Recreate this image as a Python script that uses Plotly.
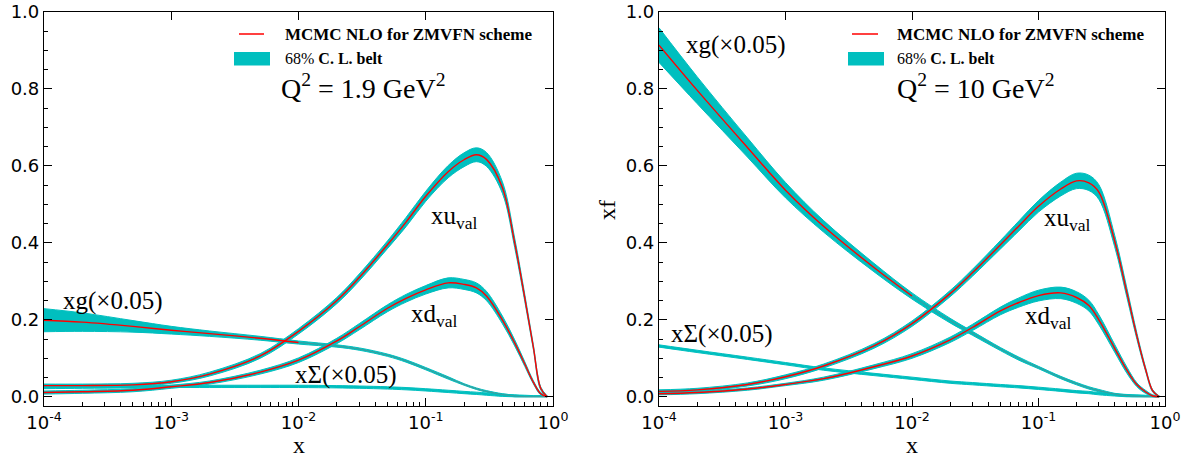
import math
import plotly.graph_objects as go

# x grid shared by all curves
xs = [1e-4, 2e-4, 5e-4, 1e-3, 2e-3, 5e-3, 1e-2, 2e-2, 3e-2, 5e-2, 7e-2,
      0.1, 0.15, 0.2, 0.25, 0.3, 0.4, 0.5, 0.6, 0.7, 0.8, 0.9]

# Q^2 = 1.9 GeV^2 (left panel): central values and 68% half-widths
xg_a = [0.199, 0.194, 0.183, 0.173, 0.164, 0.152, 0.141, 0.132, 0.124, 0.108, 0.093,
        0.073, 0.049, 0.032, 0.021, 0.014, 0.006, 0.002, 0.0, 0.0, 0.0, 0.0]
xg_a_err = [0.030, 0.024, 0.015, 0.010, 0.007, 0.005, 0.004, 0.003, 0.003, 0.003, 0.003,
            0.003, 0.003, 0.002, 0.002, 0.002, 0.002, 0.002, 0.002, 0.002, 0.002, 0.002]
xu_a = [0.029, 0.029, 0.031, 0.039, 0.059, 0.106, 0.170, 0.250, 0.310, 0.395, 0.454,
        0.521, 0.585, 0.616, 0.629, 0.617, 0.544, 0.400, 0.257, 0.130, 0.022, 0.0]
xu_a_err = [0.004, 0.004, 0.004, 0.004, 0.005, 0.006, 0.007, 0.008, 0.009, 0.010, 0.012,
            0.013, 0.016, 0.018, 0.018, 0.018, 0.015, 0.012, 0.009, 0.006, 0.004, 0.002]
xd_a = [0.011, 0.013, 0.017, 0.026, 0.037, 0.064, 0.095, 0.145, 0.182, 0.230, 0.256,
        0.278, 0.296, 0.292, 0.283, 0.262, 0.200, 0.140, 0.085, 0.038, 0.008, 0.0]
xd_a_err = [0.004, 0.004, 0.004, 0.004, 0.004, 0.005, 0.006, 0.007, 0.008, 0.009, 0.010,
            0.011, 0.013, 0.013, 0.013, 0.012, 0.010, 0.008, 0.006, 0.004, 0.003, 0.002]
xs_a = [0.024, 0.025, 0.026, 0.027, 0.027, 0.027, 0.027, 0.026, 0.025, 0.023, 0.021,
        0.018, 0.014, 0.011, 0.009, 0.007, 0.004, 0.002, 0.001, 0.0, 0.0, 0.0]
xs_a_err = [0.003] * 22

# Q^2 = 10 GeV^2 (right panel)
xg_b = [0.914, 0.797, 0.648, 0.537, 0.443, 0.336, 0.262, 0.198, 0.165, 0.124, 0.099,
        0.076, 0.050, 0.034, 0.023, 0.016, 0.007, 0.003, 0.001, 0.0, 0.0, 0.0]
xg_b_err = [0.045, 0.035, 0.025, 0.020, 0.015, 0.011, 0.008, 0.006, 0.005, 0.004, 0.004,
            0.003, 0.003, 0.003, 0.003, 0.003, 0.002, 0.002, 0.002, 0.002, 0.002, 0.002]
xu_b = [0.014, 0.018, 0.032, 0.052, 0.080, 0.132, 0.190, 0.268, 0.322, 0.395, 0.444,
        0.495, 0.540, 0.561, 0.556, 0.532, 0.405, 0.270, 0.157, 0.073, 0.015, 0.0]
xu_b_err = [0.004, 0.004, 0.004, 0.005, 0.005, 0.006, 0.007, 0.008, 0.009, 0.011, 0.013,
            0.015, 0.018, 0.020, 0.020, 0.019, 0.015, 0.012, 0.008, 0.005, 0.003, 0.002]
xd_b = [0.008, 0.011, 0.020, 0.032, 0.047, 0.078, 0.106, 0.148, 0.180, 0.223, 0.245,
        0.263, 0.270, 0.258, 0.237, 0.200, 0.126, 0.069, 0.031, 0.013, 0.002, 0.0]
xd_b_err = [0.003, 0.003, 0.003, 0.003, 0.004, 0.005, 0.006, 0.007, 0.008, 0.010, 0.012,
            0.014, 0.015, 0.015, 0.014, 0.013, 0.010, 0.008, 0.005, 0.004, 0.003, 0.002]
xs_b = [0.132, 0.118, 0.100, 0.086, 0.072, 0.058, 0.048, 0.038, 0.034, 0.029, 0.026,
        0.022, 0.017, 0.013, 0.011, 0.008, 0.005, 0.003, 0.002, 0.001, 0.0, 0.0]
xs_b_err = [0.003] * 22

major_x = [1e-4, 1e-3, 1e-2, 1e-1, 1]
major_x_text = ["10<sup>-4</sup>", "10<sup>-3</sup>", "10<sup>-2</sup>", "10<sup>-1</sup>", "10<sup>0</sup>"]
minor_x = [m * 10.0 ** e for e in range(-4, 0) for m in range(2, 10)]
major_y = [0.0, 0.2, 0.4, 0.6, 0.8, 1.0]

CYAN = "#00bfbf"
RED = "#ff0000"
SERIF = "Liberation Serif"
SANS = "DejaVu Sans"

# figure fills the whole window; body margin is removed in the page script
W, H = 1194, 459


def PX(px):
    return px / W


def PY(py):
    return 1 - py / H


fig = go.Figure()


def add_band(xa, ya, mid, err):
    lo = [max(m - e, 0.0) for m, e in zip(mid, err)]
    hi = [m + e for m, e in zip(mid, err)]
    ln = dict(color=CYAN, width=1, shape="spline", smoothing=1.0)
    fig.add_trace(go.Scatter(x=xs, y=lo, mode="lines", line=ln, xaxis=xa, yaxis=ya,
                             showlegend=False, hoverinfo="skip"))
    fig.add_trace(go.Scatter(x=xs, y=hi, mode="lines", line=ln, fill="tonexty",
                             fillcolor=CYAN, xaxis=xa, yaxis=ya,
                             showlegend=False, hoverinfo="skip"))


def add_line(xa, ya, xv, yv, color, width=1.4):
    fig.add_trace(go.Scatter(x=xv, y=yv, mode="lines",
                             line=dict(color=color, width=width, shape="spline", smoothing=1.0),
                             xaxis=xa, yaxis=ya, showlegend=False, hoverinfo="skip"))


panels = [
    ("x", "y", xg_a, xg_a_err, xu_a, xu_a_err, xd_a, xd_a_err, xs_a, xs_a_err),
    ("x2", "y2", xg_b, xg_b_err, xu_b, xu_b_err, xd_b, xd_b_err, xs_b, xs_b_err),
]
for xa, ya, g, ge, u, ue, d, de, s, se in panels:
    for mid, err in [(s, se), (g, ge), (d, de), (u, ue)]:
        add_band(xa, ya, mid, err)
    # gluon central line: red at small x, dim beyond 1e-2
    n_lo = len([x for x in xs if x <= 1e-2])
    add_line(xa, ya, xs[n_lo - 1:], g[n_lo - 1:], "rgba(110,130,130,0.6)", 1)
    add_line(xa, ya, xs[:n_lo], g[:n_lo], RED)
    add_line(xa, ya, xs, u, RED)
    add_line(xa, ya, xs, d, RED)

# axes
xdom = [[PX(44), PX(553)], [PX(659), PX(1165)]]
ydom = [PY(406), PY(12)]
yrange = [-0.024, 1.0]
tickfont = dict(family=SANS, size=18, color="black")

layout = dict(
    width=W, height=H,
    margin=dict(l=0, r=0, t=0, b=0, autoexpand=False),
    paper_bgcolor="white", plot_bgcolor="white",
    showlegend=False,
)
for i, (xn, yn, tx, ty) in enumerate([("xaxis", "yaxis", "xaxis3", "yaxis3"),
                                      ("xaxis2", "yaxis2", "xaxis4", "yaxis4")]):
    xref = "x" if i == 0 else "x2"
    yref = "y" if i == 0 else "y2"
    layout[xn] = dict(
        type="log", range=[-4, 0], domain=xdom[i], anchor=yref, automargin=False,
        tickvals=major_x, ticktext=major_x_text, ticks="inside", ticklen=8,
        tickwidth=1, tickcolor="black", tickfont=tickfont, ticklabeloverflow="allow",
        minor=dict(tickvals=minor_x, ticks="inside", ticklen=4, tickwidth=1,
                   tickcolor="black", showgrid=False),
        showgrid=False, zeroline=False, showline=True, linecolor="black",
        linewidth=1.2, mirror=True,
    )
    layout[yn] = dict(
        range=yrange, domain=ydom, anchor=xref, automargin=False,
        tickvals=major_y, tickformat=".1f", ticks="inside", ticklen=8,
        tickwidth=1, tickcolor="black", tickfont=tickfont, ticklabeloverflow="allow",
        minor=dict(dtick=0.05, tick0=0, ticks="inside", ticklen=4, tickwidth=1,
                   tickcolor="black", showgrid=False),
        showgrid=False, zeroline=False, showline=True, linecolor="black",
        linewidth=1.2, mirror=True,
    )
    # top and right axes carry major ticks only
    layout[tx] = dict(
        type="log", range=[-4, 0], overlaying=xref, side="top", anchor=yref,
        automargin=False,
        tickvals=major_x, ticks="inside", ticklen=8, tickwidth=1,
        tickcolor="black", showticklabels=False, showgrid=False, zeroline=False,
    )
    layout[ty] = dict(
        range=yrange, overlaying=yref, side="right", anchor=xref, automargin=False,
        tickvals=major_y, ticks="inside", ticklen=8, tickwidth=1,
        tickcolor="black", showticklabels=False, showgrid=False, zeroline=False,
    )
fig.update_layout(**layout)
fig.add_trace(go.Scatter(x=[None], y=[None], xaxis="x3", yaxis="y3", showlegend=False))
fig.add_trace(go.Scatter(x=[None], y=[None], xaxis="x4", yaxis="y4", showlegend=False))

# curve labels
labels = [
    ("x", "y", 3.48e-4, 0.249, "xg(×0.05)"),
    ("x", "y", 0.167, 0.465, "xu<sub>val</sub>"),
    ("x", "y", 0.117, 0.212, "xd<sub>val</sub>"),
    ("x", "y", 0.0236, 0.056, "xΣ(×0.05)"),
    ("x2", "y2", 4.06e-4, 0.915, "xg(×0.05)"),
    ("x2", "y2", 0.168, 0.462, "xu<sub>val</sub>"),
    ("x2", "y2", 0.119, 0.207, "xd<sub>val</sub>"),
    ("x2", "y2", 3.15e-4, 0.163, "xΣ(×0.05)"),
]
for xa, ya, lx, ly, txt in labels:
    fig.add_annotation(x=math.log10(lx), y=ly, xref=xa, yref=ya, text=txt,
                       showarrow=False, font=dict(family=SERIF, size=25, color="black"))

# legends (positions in window pixels, converted to axis-domain fractions)
legend_pos = [
    ("x", "y", 239, 264, 234, 270, 283, 279, "1.9", 44, 509),
    ("x2", "y2", 852, 878, 848, 884, 895, 895, "10", 659, 506),
]
for xa, ya, l0, l1, p0, p1, t0, q0, qv, ax0, aw in legend_pos:
    dx = xa + " domain"
    dy = ya + " domain"

    def fx(px):
        return (px - ax0) / aw

    def fy(py):
        return 1 - (py - 12) / 394

    fig.add_shape(type="line", xref=dx, yref=dy, x0=fx(l0), x1=fx(l1), y0=fy(34), y1=fy(34),
                  line=dict(color=RED, width=1.5))
    fig.add_shape(type="rect", xref=dx, yref=dy, x0=fx(p0), x1=fx(p1), y0=fy(52), y1=fy(65.5),
                  line=dict(width=0), fillcolor=CYAN)
    fig.add_annotation(xref=dx, yref=dy, x=fx(t0), y=fy(34), xanchor="left", yanchor="middle",
                       text="<b>MCMC NLO for ZMVFN scheme</b>", showarrow=False,
                       font=dict(family=SERIF, size=17, color="black"))
    fig.add_annotation(xref=dx, yref=dy, x=fx(t0), y=fy(59), xanchor="left", yanchor="middle",
                       text="68% <b>C. L. belt</b>", showarrow=False,
                       font=dict(family=SERIF, size=16, color="black"))
    fig.add_annotation(xref=dx, yref=dy, x=fx(q0), y=fy(86), xanchor="left", yanchor="middle",
                       text="Q<sup>2</sup> = " + qv + " GeV<sup>2</sup>", showarrow=False,
                       font=dict(family=SERIF, size=28, color="black"))

# axis titles
for xa in ["x", "x2"]:
    fig.add_annotation(xref=xa + " domain", yref="paper", x=0.5, y=PY(445),
                       text="x", showarrow=False, yanchor="middle",
                       font=dict(family=SERIF, size=24, color="black"))
fig.add_annotation(xref="paper", yref="paper", x=PX(607), y=PY(210), text="xf",
                   textangle=-90, showarrow=False,
                   font=dict(family=SERIF, size=24, color="black"))

fig.write_html("out.html", config={"displayModeBar": False},
               post_script="document.body.style.margin='0';document.body.style.overflow='hidden';")
